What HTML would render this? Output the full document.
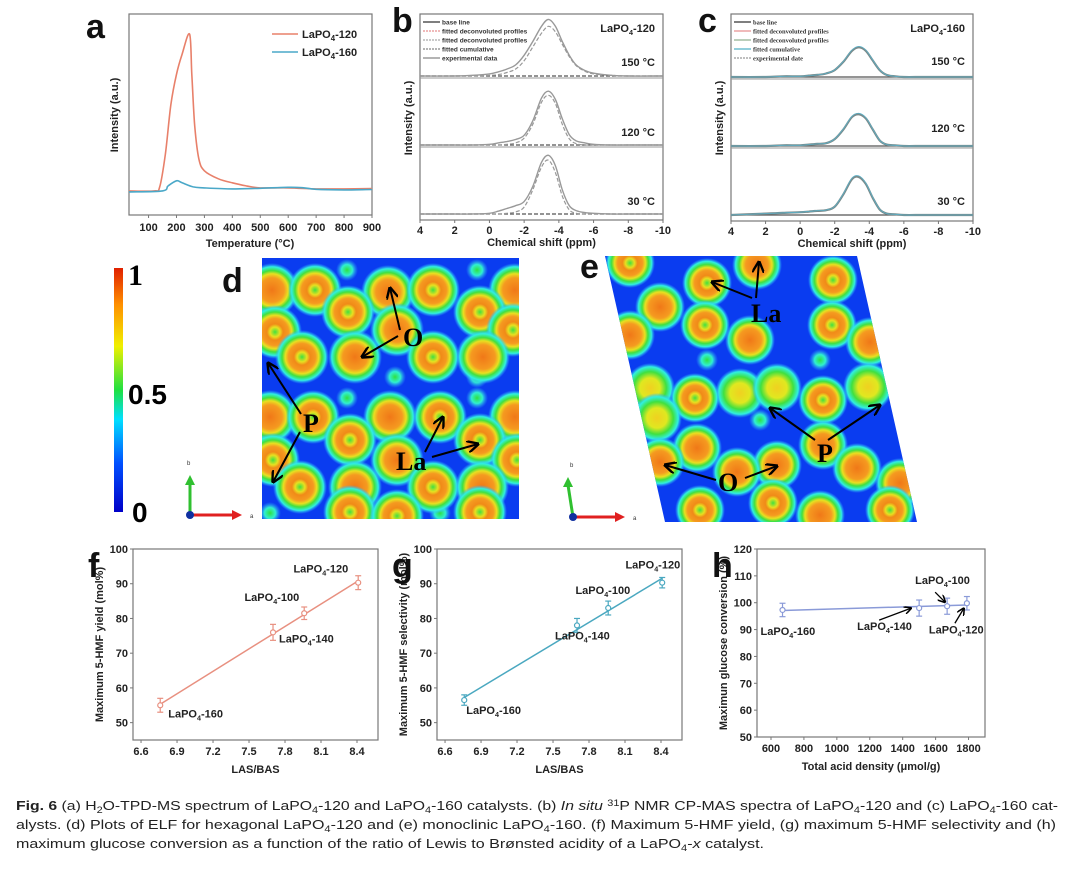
<!DOCTYPE html>
<html><head><meta charset="utf-8"><style>
html,body{margin:0;padding:0;background:#fff;}
svg{display:block;font-family:"Liberation Sans",sans-serif;}
.t{font-weight:bold;font-size:11px;fill:#222;}
.pl{font-weight:bold;font-size:34px;fill:#111;}
</style></head><body>
<svg id="fig" width="1080" height="872" viewBox="0 0 1080 872">
<defs>
<linearGradient id="jet" x1="0" y1="1" x2="0" y2="0">
<stop offset="0" stop-color="#0000c8"/><stop offset="0.2" stop-color="#0050ff"/><stop offset="0.38" stop-color="#00e0ff"/><stop offset="0.5" stop-color="#20e040"/><stop offset="0.68" stop-color="#f0f000"/><stop offset="0.85" stop-color="#ff9000"/><stop offset="1" stop-color="#e02000"/></linearGradient>
<radialGradient id="blobO"><stop offset="0" stop-color="#f07818"/><stop offset="0.45" stop-color="#f59a20"/><stop offset="0.6" stop-color="#e8e020"/><stop offset="0.72" stop-color="#40e040"/><stop offset="0.86" stop-color="#30f0e0"/><stop offset="1" stop-color="#30a0ff" stop-opacity="0"/></radialGradient>
<radialGradient id="blobR"><stop offset="0" stop-color="#40e040"/><stop offset="0.18" stop-color="#e8e020"/><stop offset="0.3" stop-color="#f08a18"/><stop offset="0.5" stop-color="#f59a20"/><stop offset="0.62" stop-color="#e8e020"/><stop offset="0.74" stop-color="#40e040"/><stop offset="0.87" stop-color="#30f0e0"/><stop offset="1" stop-color="#30a0ff" stop-opacity="0"/></radialGradient>
<radialGradient id="blobY"><stop offset="0" stop-color="#f0d020"/><stop offset="0.4" stop-color="#e0e820"/><stop offset="0.65" stop-color="#40e040"/><stop offset="0.85" stop-color="#30f0e0"/><stop offset="1" stop-color="#30a0ff" stop-opacity="0"/></radialGradient>
<radialGradient id="blobG"><stop offset="0" stop-color="#30e040"/><stop offset="0.5" stop-color="#30f0d0"/><stop offset="1" stop-color="#30a0ff" stop-opacity="0"/></radialGradient>
<clipPath id="clipD"><rect x="262" y="258" width="257" height="261"/></clipPath>
<clipPath id="clipE"><polygon points="605,256 857,256 917,522 665,522"/></clipPath>
<marker id="arr" viewBox="0 0 10 10" refX="9" refY="5" markerWidth="6" markerHeight="6" orient="auto"><path d="M0,0 L10,5 L0,10" fill="none" stroke="#000" stroke-width="2"/></marker>
</defs>
<g id="root"></g>
<g id="caption" font-size="13" fill="#222">
<text x="16" y="810" textLength="1042" lengthAdjust="spacingAndGlyphs"><tspan font-weight="bold">Fig. 6</tspan>   (a) H<tspan font-size="9" dy="3">2</tspan><tspan dy="-3">O-TPD-MS spectrum of LaPO</tspan><tspan font-size="9" dy="3">4</tspan><tspan dy="-3">-120 and LaPO</tspan><tspan font-size="9" dy="3">4</tspan><tspan dy="-3">-160 catalysts. (b) </tspan><tspan font-style="italic">In situ</tspan> <tspan font-size="9" dy="-4">31</tspan><tspan dy="4">P NMR CP-MAS spectra of LaPO</tspan><tspan font-size="9" dy="3">4</tspan><tspan dy="-3">-120 and (c) LaPO</tspan><tspan font-size="9" dy="3">4</tspan><tspan dy="-3">-160 cat-</tspan></text>
<text x="16" y="829" textLength="1040" lengthAdjust="spacingAndGlyphs">alysts. (d) Plots of ELF for hexagonal LaPO<tspan font-size="9" dy="3">4</tspan><tspan dy="-3">-120 and (e) monoclinic LaPO</tspan><tspan font-size="9" dy="3">4</tspan><tspan dy="-3">-160. (f) Maximum 5-HMF yield, (g) maximum 5-HMF selectivity and (h)</tspan></text>
<text x="16" y="848" textLength="748" lengthAdjust="spacingAndGlyphs">maximum glucose conversion as a function of the ratio of Lewis to Brønsted acidity of a LaPO<tspan font-size="9" dy="3">4</tspan><tspan dy="-3">-</tspan><tspan font-style="italic">x</tspan> catalyst.</text>
</g>
</svg>
<script>
// ---------- DATA ----------
const aTempRed = [30,120,140,160,180,200,220,247,255,265,280,300,350,400,450,500,600,700,800,900];
const aIntRed  = [12,12,14,30,55,70,80,90,70,45,28,22,18,16,14.5,13.5,13.5,13,13,13.2];
const aTempBlue = [30,150,170,200,220,260,300,400,500,600,650,700,800,900];
const aIntBlue  = [11.5,12,14.5,17,16,14,13.5,13,13.3,13.8,13.6,12.8,12.5,12.7];
const aXTicks = [100,200,300,400,500,600,700,800,900];

const nmrPpm = [4,2,1,0,-0.5,-1,-1.5,-2,-2.5,-3,-3.4,-3.8,-4.2,-4.6,-5,-5.5,-6,-7,-8,-10];
const bExp150 = [0,0,0.01,0.03,0.06,0.1,0.16,0.3,0.5,0.72,0.82,0.72,0.5,0.3,0.16,0.08,0.04,0.01,0,0];
const bFit150 = [0,0,0,0.01,0.02,0.05,0.1,0.22,0.42,0.62,0.72,0.64,0.46,0.28,0.15,0.07,0.03,0.01,0,0];
const bExp120 = [0,0,0,0.01,0.03,0.05,0.08,0.14,0.35,0.68,0.78,0.66,0.38,0.15,0.06,0.03,0.01,0,0,0];
const bFit120 = [0,0,0,0,0,0.01,0.03,0.1,0.3,0.62,0.72,0.6,0.3,0.09,0.02,0,0,0,0,0];
const bExp30 = [0,0,0,0.01,0.04,0.08,0.12,0.18,0.4,0.75,0.85,0.7,0.35,0.12,0.05,0.02,0.01,0,0,0];
const bFit30 = [0,0,0,0,0,0.01,0.03,0.1,0.35,0.68,0.78,0.6,0.26,0.06,0.01,0,0,0,0,0];
const c150 = [0,0,0.01,0.01,0.02,0.03,0.05,0.1,0.22,0.38,0.43,0.38,0.24,0.1,0.03,0.01,0,0,0,0];
const c120 = [0,0,0.01,0.01,0.02,0.03,0.04,0.1,0.24,0.42,0.46,0.4,0.24,0.08,0.02,0.01,0,0,0,0];
const c30 = [0,0.02,0.03,0.04,0.05,0.06,0.07,0.12,0.3,0.52,0.55,0.45,0.25,0.08,0.02,0.01,0,0,0,0];
const nmrTicks = [4,2,0,-2,-4,-6,-8,-10];

const fgSamples = ['LaPO4-160','LaPO4-140','LaPO4-100','LaPO4-120'];
const fgLasBas = [6.76,7.7,7.96,8.41];
const fYield = [55,76,81.5,90.3];
const fErr = [2,2.3,1.8,2];
const gSel = [56.5,78,83,90.3];
const gErr = [1.5,2,2,1.5];
const fgXTicks = [6.6,6.9,7.2,7.5,7.8,8.1,8.4];
const fgYTicks = [50,60,70,80,90,100];
const hSamples = ['LaPO4-160','LaPO4-140','LaPO4-100','LaPO4-120'];
const hDensity = [670,1500,1670,1790];
const hConv = [97.3,98,98.7,99.8];
const hErr = [2.5,3,3,2.5];
const hXTicks = [600,800,1000,1200,1400,1600,1800];
const hYTicks = [50,60,70,80,90,100,110,120];

// ---------- HELPERS ----------
const NS='http://www.w3.org/2000/svg';
const root=document.getElementById('root');
function mk(tag,attrs,parent,txt){const e=document.createElementNS(NS,tag);for(const k in attrs)e.setAttribute(k,attrs[k]);if(txt!==undefined)e.textContent=txt;(parent||root).appendChild(e);return e;}
function lin(d0,d1,r0,r1){return v=>r0+(v-d0)/(d1-d0)*(r1-r0);}
function smooth(pts){let d='M'+pts[0][0].toFixed(1)+','+pts[0][1].toFixed(1);for(let i=0;i<pts.length-1;i++){const p0=pts[i-1]||pts[i],p1=pts[i],p2=pts[i+1],p3=pts[i+2]||p2;const c1=[p1[0]+(p2[0]-p0[0])/6,p1[1]+(p2[1]-p0[1])/6],c2=[p2[0]-(p3[0]-p1[0])/6,p2[1]-(p3[1]-p1[1])/6];d+=' C'+c1.map(v=>v.toFixed(1))+' '+c2.map(v=>v.toFixed(1))+' '+p2[0].toFixed(1)+','+p2[1].toFixed(1);}return d;}
function lapo(parent,x,y,suffix,size,anchor){const t=mk('text',{x:x,y:y,class:'t','font-size':size||11,'text-anchor':anchor||'start'},parent);
 mk('tspan',{},t,'LaPO');mk('tspan',{'font-size':(size||11)*0.65,dy:3},t,'4');mk('tspan',{dy:-3},t,'-'+suffix);return t;}
function frame(g,x0,y0,x1,y1){mk('rect',{x:x0,y:y0,width:x1-x0,height:y1-y0,fill:'none',stroke:'#777','stroke-width':1.2},g);}
function ytitle(g,x,y,txt){mk('text',{x:x,y:y,class:'t','font-size':11,'text-anchor':'middle',transform:`rotate(-90 ${x} ${y})`},g,txt);}

// ---------- PANEL A ----------
{
const g=mk('g',{});


const X0=129,X1=372,Y0=14,Y1=215;
const sx=lin(30,900,X0,X1), sy=lin(0,100,Y1,Y0);
frame(g,X0,Y0,X1,Y1);
aXTicks.forEach(v=>{mk('line',{x1:sx(v),x2:sx(v),y1:Y1,y2:Y1+3,stroke:'#777'},g);
 const t=mk('text',{x:sx(v),y:Y1+16,class:'t','text-anchor':'middle'},g,v);});
const r=mk('path',{d:smooth(aTempRed.map((v,i)=>[sx(v),sy(aIntRed[i])])),fill:'none',stroke:'#e8806a','stroke-width':1.6},g);

const b=mk('path',{d:smooth(aTempBlue.map((v,i)=>[sx(v),sy(aIntBlue[i])])),fill:'none',stroke:'#4aa8c8','stroke-width':1.6},g);

mk('line',{x1:272,x2:298,y1:34,y2:34,stroke:'#e8806a','stroke-width':1.6},g);lapo(g,302,38,'120',12);
mk('line',{x1:272,x2:298,y1:52,y2:52,stroke:'#4aa8c8','stroke-width':1.6},g);lapo(g,302,56,'160',12);
mk('text',{x:250,y:247,class:'t','font-size':12,'text-anchor':'middle'},g,'Temperature (°C)');
ytitle(g,118,115,'Intensity (a.u.)');
mk('text',{x:86,y:38,class:'pl'},g,'a');
}

// ---------- PANELS B & C ----------
function nmrPanel(name,X0,X1,bands,serif,label,letter,letterX){
const g=mk('g',{});


const Y0=14,Y1=bands[2].base+6;
const sx=lin(4,-10,X0,X1);
frame(g,X0,Y0,X1,Y1);
nmrTicks.forEach(v=>{mk('line',{x1:sx(v),x2:sx(v),y1:Y1,y2:Y1+3,stroke:'#777'},g);
 const t=mk('text',{x:sx(v),y:Y1+14,class:'t','text-anchor':'middle'},g,v);});
bands.forEach((bd,k)=>{
 if(k>0) mk('line',{x1:X0,x2:X1,y1:bd.top,y2:bd.top,stroke:'#999'},g);
 const sy=v=>bd.base-v*69;
 mk('line',{x1:X0,x2:X1,y1:bd.base,y2:bd.base,stroke:'#555','stroke-width':1.2,'stroke-dasharray':serif?'':'4 2'},g);
 if(bd.fit){const f=mk('path',{d:smooth(nmrPpm.map((p,i)=>[sx(p),sy(bd.fit[i])])),fill:'none',stroke:'#999','stroke-width':1.2,'stroke-dasharray':'4 2'},g);
  }
 const e=mk('path',{d:smooth(nmrPpm.map((p,i)=>[sx(p),sy(bd.exp[i])])),fill:'none',stroke:serif?'#7a8a8a':'#999','stroke-width':serif?2.2:1.4},g);
 
 if(serif){mk('path',{d:smooth(nmrPpm.map((p,i)=>[sx(p),sy(bd.exp[i]*1.03)])),fill:'none',stroke:'#5ab0c8','stroke-width':0.8},g);}
 mk('text',{x:X1-8,y:bd.lab,class:'t','text-anchor':'end'},g,bd.temp);
});
const legTxt=serif?['base line','fitted deconvoluted profiles','fitted deconvoluted profiles','fitted cumulative','experimental date']:['base line','fitted deconvoluted profiles','fitted deconvoluted profiles','fitted cumulative','experimental data'];
const legCol=serif?['#333','#e89090','#90b090','#50b0c8','#999']:['#333','#e89090','#aaa','#888','#888'];
legTxt.forEach((s,i)=>{const y=22+i*9;mk('line',{x1:X0+3,x2:X0+20,y1:y,y2:y,stroke:legCol[i],'stroke-width':1.2,'stroke-dasharray':(i>0&&i<4&&!serif)||i==4&&serif?'2 1':''},g);
 mk('text',{x:X0+22,y:y+2.5,'font-size':6.5,'font-weight':'bold','font-family':serif?'"Liberation Serif",serif':'"Liberation Sans",sans-serif',fill:'#333'},g,s);});
lapo(g,X1-8,32,label,11,'end');
mk('text',{x:(X0+X1)/2,y:Y1+26,class:'t','font-size':12,'text-anchor':'middle'},g,'Chemical shift (ppm)');
ytitle(g,X0-8,118,'Intensity (a.u.)');
mk('text',{x:letterX,y:32,class:'pl'},g,letter);
}
nmrPanel('panel-b-nmr-lapo4-120',420,663,[
 {top:14,base:76,exp:bExp150,fit:bFit150,temp:'150 °C',lab:66},
 {top:78,base:145,exp:bExp120,fit:bFit120,temp:'120 °C',lab:136},
 {top:147,base:214,exp:bExp30,fit:bFit30,temp:'30 °C',lab:205}],false,'120','b',392);
nmrPanel('panel-c-nmr-lapo4-160',731,973,[
 {top:14,base:77,exp:c150,temp:'150 °C',lab:65},
 {top:79,base:146,exp:c120,temp:'120 °C',lab:132},
 {top:148,base:215,exp:c30,temp:'30 °C',lab:205}],true,'160','c',698);

// ---------- ELF MAPS ----------
const dBlobs=[[272,290,'O'],[315,290,'R'],[388,292,'O'],[433,290,'R'],[515,290,'O'],[348,312,'R'],[480,312,'R'],[275,332,'R'],[397,330,'O'],[513,330,'R'],[302,357,'R'],[355,357,'O'],[433,357,'R'],[483,357,'O'],
 [270,417,'O'],[313,417,'R'],[390,417,'O'],[440,417,'R'],[515,417,'O'],[350,440,'R'],[480,440,'R'],[273,460,'R'],[397,460,'O'],[517,460,'R'],[300,487,'R'],[355,487,'O'],[433,487,'R'],[482,487,'O'],[350,512,'R'],[480,512,'R'],[397,516,'R']];
const dSmall=[[347,270],[477,270],[395,377],[477,377],[347,398],[477,398],[270,513],[440,513]];
const eBlobs=[[630,263,'R'],[757,265,'O'],[833,280,'R'],[707,283,'R'],[660,307,'O'],[705,325,'R'],[832,325,'R'],[750,340,'O'],[630,335,'O'],[870,342,'O'],[740,393,'Y'],[777,388,'Y'],[650,388,'Y'],[868,387,'Y'],[695,398,'R'],[823,400,'R'],[657,418,'Y'],[697,448,'O'],[823,445,'O'],[660,462,'O'],[777,465,'O'],[737,472,'O'],[857,468,'O'],[900,483,'O'],[773,503,'R'],[700,510,'R'],[890,510,'R'],[820,515,'O']];
function elf(name,clip,bg,blobs,small,r){
 const g=mk('g',{'clip-path':`url(#${clip})`});
 
 mk('rect',{x:250,y:250,width:700,height:280,fill:'#0a3cf0'},g);
 small.forEach(s=>mk('circle',{cx:s[0],cy:s[1],r:11,fill:'url(#blobG)'},g));
 blobs.forEach(b=>mk('circle',{cx:b[0],cy:b[1],r:r,fill:`url(#blob${b[2]})`},g));
}
elf('elf-map-d','clipD','',dBlobs,dSmall,27);
elf('elf-map-e','clipE','',eBlobs,[[707,360],[820,360],[760,420]],25);
{
const g=mk('g',{});
mk('text',{x:222,y:292,class:'pl'},g,'d');mk('text',{x:580,y:278,class:'pl'},g,'e');
const cb=mk('rect',{x:114,y:268,width:9,height:244,fill:'url(#jet)'},g);
mk('text',{x:128,y:285,'font-family':'"Liberation Serif",serif','font-weight':'bold','font-size':30},g,'1');
mk('text',{x:128,y:404,'font-weight':'bold','font-size':28},g,'0.5');
mk('text',{x:132,y:522,'font-weight':'bold','font-size':28},g,'0');
const lab=(x,y,s)=>mk('text',{x:x,y:y,'font-family':'"Liberation Serif",serif','font-weight':'bold','font-size':26,fill:'#000'},g,s);
const ar=(x1,y1,x2,y2)=>mk('line',{x1:x1,y1:y1,x2:x2,y2:y2,stroke:'#000','stroke-width':2,'marker-end':'url(#arr)'},g);
lab(403,346,'O');ar(400,330,390,288);ar(398,336,362,357);
lab(303,432,'P');ar(301,414,268,363);ar(300,432,273,482);
lab(396,470,'La');ar(425,452,443,417);ar(432,457,478,444);
lab(751,322,'La');ar(752,298,712,282);ar(756,298,759,262);
lab(817,462,'P');ar(815,440,770,408);ar(828,440,880,405);
lab(718,491,'O');ar(716,480,665,465);ar(745,478,777,466);
[[190,515],[573,517]].forEach((o,i)=>{
 mk('line',{x1:o[0],y1:o[1],x2:o[0]+45,y2:o[1],stroke:'#e02020','stroke-width':3},g);mk('polygon',{points:`${o[0]+52},${o[1]} ${o[0]+42},${o[1]-5} ${o[0]+42},${o[1]+5}`,fill:'#e02020'},g);
 const dx=i?-5:0;mk('line',{x1:o[0],y1:o[1],x2:o[0]+dx,y2:o[1]-32,stroke:'#30c030','stroke-width':3},g);mk('polygon',{points:`${o[0]+dx},${o[1]-40} ${o[0]+dx-5},${o[1]-30} ${o[0]+dx+5},${o[1]-30}`,fill:'#30c030'},g);
 mk('circle',{cx:o[0],cy:o[1],r:4,fill:'#1030a0'},g);
 mk('text',{x:o[0]-3,y:o[1]-50,'font-size':6,fill:'#333'},g,'b');mk('text',{x:o[0]+60,y:o[1]+3,'font-size':6,fill:'#333'},g,'a');
});
}

// ---------- PANELS F, G, H ----------
function scatterPanel(name,X0,X1,Y0,Y1,xd0,xd1,yd0,yd1,xs,ys,es,xt,yt,col,ytl,xtl,letter,labs,arrows){
 const g=mk('g',{});
 const sx=lin(xd0,xd1,X0,X1), sy=lin(yd0,yd1,Y1,Y0);
 frame(g,X0,Y0,X1,Y1);
 xt.forEach(v=>{mk('line',{x1:sx(v),x2:sx(v),y1:Y1,y2:Y1+3,stroke:'#777'},g);const t=mk('text',{x:sx(v),y:Y1+15,class:'t','text-anchor':'middle'},g,v);});
 yt.forEach(v=>{mk('line',{x1:X0,x2:X0-3,y1:sy(v),y2:sy(v),stroke:'#777'},g);const t=mk('text',{x:X0-5,y:sy(v)+4,class:'t','text-anchor':'end'},g,v);});
 const n=xs.length,mx=xs.reduce((a,b)=>a+b)/n,my=ys.reduce((a,b)=>a+b)/n;let num=0,den=0;xs.forEach((x,i)=>{num+=(x-mx)*(ys[i]-my);den+=(x-mx)**2;});const k=num/den,b0=my-k*mx;
 const xa=Math.min(...xs),xb=Math.max(...xs);
 const ln=mk('line',{x1:sx(xa),y1:sy(k*xa+b0),x2:sx(xb),y2:sy(k*xb+b0),stroke:col,'stroke-width':1.5},g);
 xs.forEach((x,i)=>{const gp=mk('g',{},g);
  const cx=sx(x),t=sy(ys[i]+es[i]),bt=sy(ys[i]-es[i]);
  mk('line',{x1:cx,x2:cx,y1:t,y2:bt,stroke:col,'stroke-width':1.2},gp);mk('line',{x1:cx-3,x2:cx+3,y1:t,y2:t,stroke:col,'stroke-width':1.2},gp);mk('line',{x1:cx-3,x2:cx+3,y1:bt,y2:bt,stroke:col,'stroke-width':1.2},gp);
  mk('circle',{cx:cx,cy:sy(ys[i]),r:2.5,fill:'#fff',stroke:col,'stroke-width':1.2},gp);
  const L=labs[i];const lt=lapo(g,cx+L[0],sy(ys[i])+L[1],L[2],11,L[3]);
  if(arrows&&arrows[i]){const a=arrows[i];mk('line',{x1:cx+a[0],y1:sy(ys[i])+a[1],x2:cx+a[2],y2:sy(ys[i])+a[3],stroke:'#000','stroke-width':1.3,'marker-end':'url(#arr)'},g);}
 });
 mk('text',{x:(X0+X1)/2,y:Y1+33,class:'t','font-size':11,'text-anchor':'middle'},g,xtl);
 ytitle(g,X0-30,(Y0+Y1)/2,ytl);
 mk('text',{x:X0-45,y:Y0+28,class:'pl'},g,letter);
}
const fgLabs=[[8,12,'160','start'],[6,10,'140','start'],[-5,-12,'100','end'],[-10,-10,'120','end']];
scatterPanel('panel-f-yield-chart',133,378,549,740,6.533,8.575,45,100,fgLasBas,fYield,fErr,fgXTicks,fgYTicks,'#e89080','Maximum 5-HMF yield (mol%)','LAS/BAS','f',fgLabs);
scatterPanel('panel-g-selectivity-chart',437,682,549,740,6.533,8.575,45,100,fgLasBas,gSel,gErr,fgXTicks,fgYTicks,'#4aa8c0','Maximum 5-HMF selectivity (mol%)','LAS/BAS','g',[[2,14,'160','start'],[-22,14,'140','start'],[22,-14,'100','end'],[18,-14,'120','end']]);
scatterPanel('panel-h-conversion-chart',757,985,549,737,515,1900,50,120,hDensity,hConv,hErr,hXTicks,hYTicks,'#8a9ad8','Maximun glucose conversion (%)','Total acid density (μmol/g)','h',
 [[-22,25,'160','start'],[-62,22,'140','start'],[-32,-22,'100','start'],[-38,30,'120','start']],
 [null,[-40,12,-8,0],[-12,-14,-2,-4],[-12,20,-3,5]]);
</script>
</body></html>
